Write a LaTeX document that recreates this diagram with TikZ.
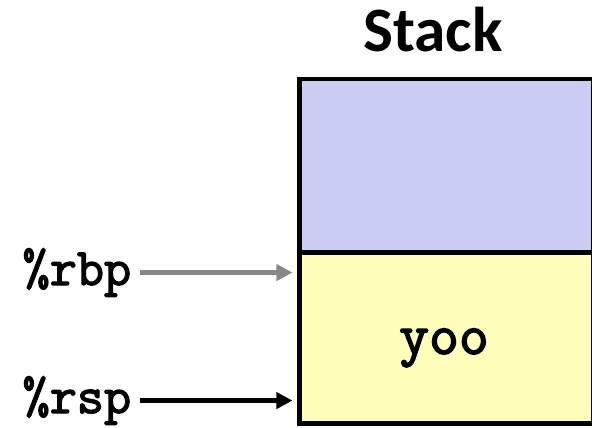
\documentclass[tikz,border=0pt]{standalone}
\usepackage{fontspec}
\setmainfont{Carlito}
\newfontfamily\regfont[FakeBold=2.5]{Latin Modern Mono}
\usepackage{tikz}
\usetikzlibrary{calc, arrows.meta, positioning}
\tikzset{>=latex}
\definecolor{myblue}{RGB}{203, 204, 242}
\definecolor{myyellow}{RGB}{255, 255, 187}
\definecolor{mygray}{RGB}{136, 136, 136}
\tikzset{cell/.style = {draw, line width = 1.42pt, minimum width = 2.935cm, outer sep = 0pt, inner sep = 0pt},
         reg/.style = {font = \regfont\fontsize{15}{15}\selectfont, inner sep = 2.3pt, anchor = base east},
         ptr/.style = {line width = 1.3pt, -{Triangle[length = 4.6pt, width = 4.6pt]}, shorten > = 2pt}}
\begin{document}
\begin{tikzpicture}
\useasboundingbox (0,0) rectangle (5.92,4.27);
\node[cell, fill = myblue, minimum height = 1.735cm] (top) at (4.4625, 2.6125) {};
\node[cell, fill = myyellow, minimum height = 1.71cm] (frame) at (4.4625, 0.89) {};
\node[anchor = base, font = \bfseries\fontsize{18}{18}\selectfont] (title) at (4.33, 3.75) {Stack};
\node[reg, anchor = base, font = \regfont\fontsize{16.5}{16.5}\selectfont] (yoo) at (4.44, 0.73) {yoo};
\node[reg] (rbp) at (1.40, 1.42) {\%rbp};
\node[reg] (rsp) at (1.40, 0.14) {\%rsp};
\draw[ptr, mygray] (rbp.east) -- (rbp.east -| frame.west);
\draw[ptr] (rsp.east) -- (rsp.east -| frame.west);
\end{tikzpicture}
\end{document}
